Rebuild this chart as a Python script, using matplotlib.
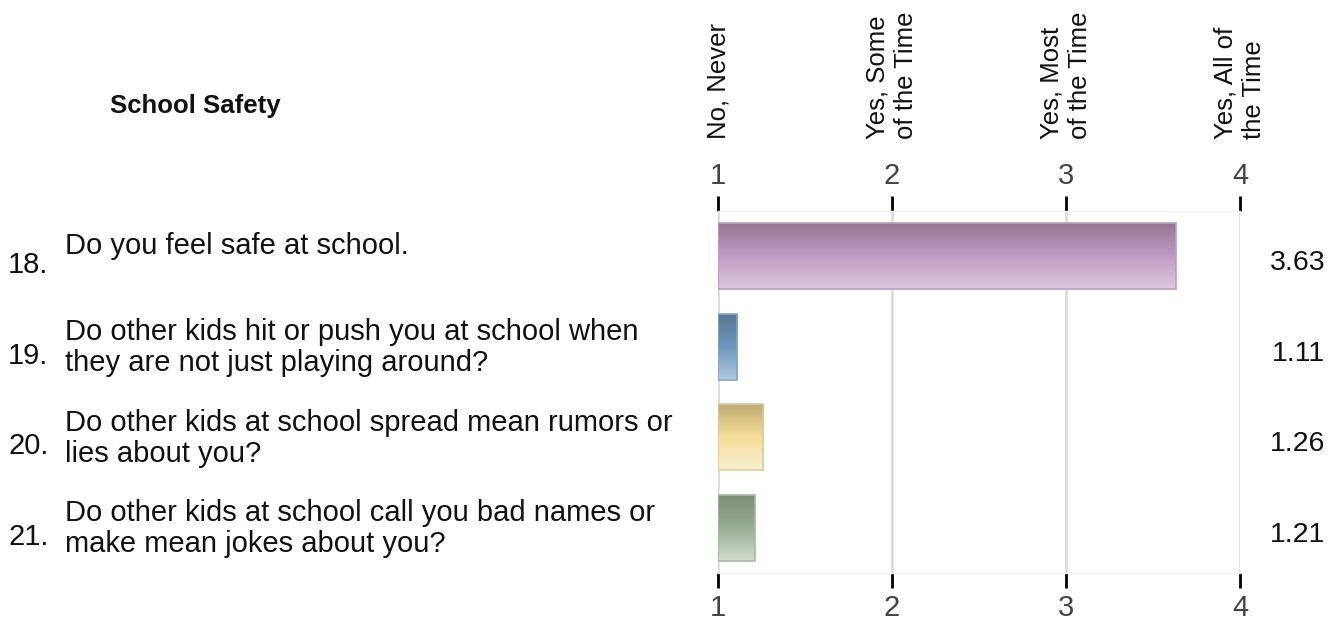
import numpy as np
import matplotlib
matplotlib.use("Agg")
import matplotlib.pyplot as plt
from matplotlib.colors import LinearSegmentedColormap
from matplotlib.patches import Rectangle

plt.rcParams['font.family'] = ['Liberation Sans', 'DejaVu Sans']

title = "School Safety"
numbers = ["18.", "19.", "20.", "21."]
questions = [
    "Do you feel safe at school.",
    "Do other kids hit or push you at school when\nthey are not just playing around?",
    "Do other kids at school spread mean rumors or\nlies about you?",
    "Do other kids at school call you bad names or\nmake mean jokes about you?",
]
values = [3.63, 1.11, 1.26, 1.21]
scale_ticks = [1, 2, 3, 4]
scale_labels = ["No, Never", "Yes, Some\nof the Time", "Yes, Most\nof the Time", "Yes, All of\nthe Time"]
gradients = [
    ["#937691", "#bf9bc3", "#dcc9de"],
    ["#577897", "#6e95be", "#b2c9e1"],
    ["#bdab74", "#f5dd97", "#f8f0d2"],
    ["#7b8c76", "#97ad91", "#d3ddd1"],
]
edges = ["#b9a0bb", "#8ea5bd", "#d8cc9e", "#a9b8a5"]

W, H = 1341, 623
fig = plt.figure(figsize=(W / 100, H / 100), dpi=100)
x0, x1, yt, yb = 718, 1240, 211, 573
ax = fig.add_axes([x0 / W, 1 - yb / H, (x1 - x0) / W, (yb - yt) / H])
ax.set_xlim(1, 4)
ax.set_ylim(len(values), 0)

for xv in scale_ticks:
    ax.axvline(xv, color="#dddddd", lw=2, zorder=0)

bw = 0.73
slot = (yb - yt) / len(values)
for i, v in enumerate(values):
    cmap = LinearSegmentedColormap.from_list(f"g{i}", gradients[i])
    grad = np.linspace(0, 1, 100).reshape(-1, 1)
    y0 = i + 0.5 - bw / 2
    im = ax.imshow(grad, cmap=cmap, aspect="auto", extent=(1, v, y0 + bw, y0),
                   zorder=2, interpolation="bilinear")
    rect = Rectangle((1, y0), v - 1, bw, facecolor="none", edgecolor=edges[i], lw=1.2, zorder=3)
    ax.add_patch(rect)
    im.set_clip_path(rect)
    yc = yt + slot * (i + 0.5)
    ax.text(1298 / W, 1 - (yc + 7) / H, f"{v:.2f}", transform=fig.transFigure,
            ha="center", va="center", fontsize=20.5, color="#111111")
    nlines = questions[i].count("\n") + 1
    if nlines == 1:
        fig.text(65 / W, 1 - (yc - 10) / H, questions[i],
                 ha="left", va="center", fontsize=21, color="#111111")
    else:
        fig.text(65 / W, 1 - (yc + 1) / H, questions[i],
                 ha="left", va="center", fontsize=21, color="#111111", linespacing=1.13)
    fig.text(8 / W, 1 - (yc + 9) / H, numbers[i],
             ha="left", va="center", fontsize=21, color="#111111")

ax.set_xticks(scale_ticks)
ax.set_xticklabels([str(t) for t in scale_ticks])
ax.set_yticks([])
for s in ["left", "right"]:
    ax.spines[s].set_visible(False)
for s in ["top", "bottom"]:
    ax.spines[s].set_color("#f0f0f0")
    ax.spines[s].set_linewidth(1)
ax.tick_params(axis="x", which="both", top=True, labeltop=True, bottom=True, labelbottom=True,
               direction="out", length=11, width=2, color="black",
               labelsize=21, labelcolor="#444444", pad=4)

for xv, lab in zip(scale_ticks, scale_labels):
    fig.text((x0 + (xv - 1) * (x1 - x0) / 3) / W, 1 - 139 / H, lab, rotation=90,
             ha="center", va="bottom", fontsize=18.5, color="#111111", linespacing=1.25,
             multialignment="left", rotation_mode="default")

fig.text(110 / W, 1 - 106 / H, title, ha="left", va="center", fontsize=18.5,
         fontweight="bold", color="#111111")

fig.savefig("out.png", dpi=100)
